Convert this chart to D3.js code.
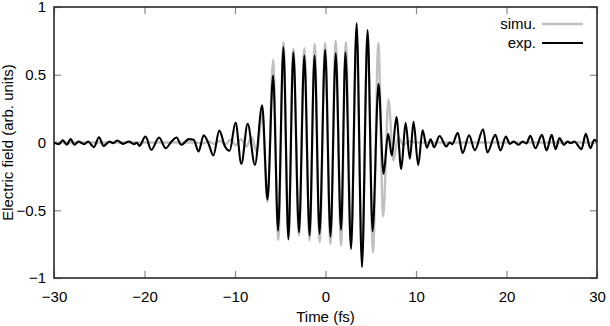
<!DOCTYPE html>
<html>
<head>
<meta charset="utf-8">
<script src="https://cdn.jsdelivr.net/npm/d3@7"></script>
<style>
  body { margin: 0; background: #fff; }
  text { font-family: "Liberation Sans", Arial, sans-serif; font-size: 15px; fill: #000; }
</style>
</head>
<body>
<div id="chart"></div>
<script>
// extrema of the measured field (time in fs, field)
var expTime = [-30, -29.45, -29.02, -28.59, -28.16, -27.73, -27.3, -26.66, -26.23, -25.59,
  -25.03, -24.52, -23.87, -23.45, -23.02, -22.37, -21.73, -21.15, -20.85, -20.57,
  -19.89, -19.25, -18.39, -17.66, -17.02, -16.46, -15.95, -15.09, -14.57, -14.02,
  -13.46, -12.94, -12.39, -11.74, -11.1, -10.59, -9.94, -9.3, -8.6, -7.8,
  -7.0, -6.41, -5.79, -5.24, -4.65, -4.1, -3.55, -2.93, -2.34, -1.76,
  -1.21, -0.66, -0.04, 0.55, 1.13, 1.72, 2.2, 2.82, 3.44, 4.03,
  4.65, 5.2, 5.86, 6.41, 6.92, 7.33, 7.84, 8.37, 8.85, 9.32,
  9.73, 10.24, 10.73, 11.2, 11.62, 12.0, 12.6, 13.35, 13.7, 14.0,
  14.62, 15.15, 15.87, 16.5, 17.42, 17.88, 18.77, 19.33, 19.93, 20.36,
  20.8, 21.35, 21.77, 22.2, 22.63, 23.19, 23.92, 24.43, 24.99, 25.42,
  25.85, 26.36, 26.75, 27.1, 27.48, 28.29, 28.76, 29.27, 29.7, 30];
var expField = [0, -0.012, 0.017, -0.017, 0.025, -0.017, 0.007, -0.012, 0.007, -0.034,
  0.039, -0.025, 0.007, -0.005, 0.015, -0.01, 0.007, -0.012, -0.002, -0.025,
  0.044, -0.054, 0.037, -0.042, 0.007, 0.037, -0.017, 0.025, 0.02, -0.066,
  0.054, -0.005, -0.096, 0.088, -0.029, -0.061, 0.147, -0.157, 0.138, -0.165,
  0.275, -0.42, 0.494, -0.65, 0.703, -0.715, 0.666, -0.662, 0.642, -0.686,
  0.642, -0.674, 0.684, -0.694, 0.659, -0.644, 0.666, -0.785, 0.88, -0.92,
  0.83, -0.655, 0.433, -0.231, 0.064, -0.096, 0.187, -0.195, 0.146, -0.12,
  0.152, -0.167, 0.09, -0.038, 0.024, -0.034, 0.048, -0.03, 0.0, -0.012,
  0.071, -0.078, 0.054, -0.057, 0.098, -0.074, 0.056, -0.059, 0.044, -0.01,
  0.007, -0.017, 0.007, -0.007, 0.049, -0.042, 0.056, -0.059, 0.056, -0.049,
  0.032, -0.017, 0.007, -0.005, 0.007, -0.049, 0.064, -0.042, 0.02, 0.005];

// extrema of the simulated field
var simTime = [-30, -14.5, -13.5, -12.9, -12.3, -11.68, -11.1, -10.5, -9.92, -9.34,
  -8.75, -8.17, -7.58, -7.0, -6.41, -5.79, -5.22, -4.65, -4.1, -3.55,
  -2.93, -2.34, -1.76, -1.19, -0.64, -0.04, 0.55, 1.12, 1.72, 2.25,
  2.82, 3.42, 4.03, 4.65, 5.25, 5.84, 6.37, 6.96, 7.5, 8.05,
  8.6, 9.2, 10, 30];
var simField = [0, 0, -0.005, 0.008, -0.01, 0.012, -0.015, 0.02, -0.02, 0.025,
  -0.03, 0.04, -0.07, 0.22, -0.44, 0.61, -0.72, 0.74, -0.7, 0.69,
  -0.686, 0.696, -0.723, 0.728, -0.736, 0.733, -0.748, 0.75, -0.76, 0.74,
  -0.76, 0.78, -0.8, 0.8, -0.81, 0.735, -0.546, 0.317, -0.133, 0.04,
  -0.02, 0.01, 0, 0];

var xTicks = [-30, -20, -10, 0, 10, 20, 30];
var yTicks = [-1, -0.5, 0, 0.5, 1];

var width = 610, height = 326;
var plotLeft = 54, plotRight = 597, plotTop = 7, plotBottom = 278;

var svg = d3.select("#chart").append("svg").attr("width", width).attr("height", height);

var x = d3.scaleLinear().domain([-30, 30]).range([plotLeft, plotRight]);
var y = d3.scaleLinear().domain([-1, 1]).range([plotBottom, plotTop]);
var fmt = d3.format("~g");

function pairs(t, v) {
  var out = [];
  for (var i = 0; i < t.length; i++) out.push([t[i], v[i]]);
  return out;
}

// axes, ticks pointing inward on all four sides
var gb = svg.append("g").attr("transform", "translate(0," + plotBottom + ")")
  .call(d3.axisBottom(x).tickValues(xTicks).tickFormat(fmt).tickSizeInner(-7).tickSizeOuter(0).tickPadding(13));
var gt = svg.append("g").attr("transform", "translate(0," + plotTop + ")")
  .call(d3.axisTop(x).tickValues(xTicks).tickFormat("").tickSizeInner(-7).tickSizeOuter(0));
var gl = svg.append("g").attr("transform", "translate(" + plotLeft + ",0)")
  .call(d3.axisLeft(y).tickValues(yTicks).tickFormat(fmt).tickSizeInner(-7).tickSizeOuter(0).tickPadding(8));
var gr = svg.append("g").attr("transform", "translate(" + plotRight + ",0)")
  .call(d3.axisRight(y).tickValues(yTicks).tickFormat("").tickSizeInner(-7).tickSizeOuter(0));

[gb, gt, gl, gr].forEach(function (g) {
  g.select(".domain").remove();
  g.selectAll(".tick line").attr("stroke", "#8a8a8a").attr("stroke-width", 1.2);
  g.selectAll(".tick text").attr("font-size", 15).attr("font-family", "Liberation Sans, Arial, sans-serif").attr("fill", "#000");
});

var line = d3.line()
  .x(function (d) { return x(d[0]); })
  .y(function (d) { return y(d[1]); })
  .curve(d3.curveMonotoneX);

svg.append("path").datum(pairs(simTime, simField))
  .attr("d", line).attr("fill", "none").attr("stroke", "#c0c0c0").attr("stroke-width", 2.4);
svg.append("path").datum(pairs(expTime, expField))
  .attr("d", line).attr("fill", "none").attr("stroke", "#000").attr("stroke-width", 2.1)
  .attr("stroke-linejoin", "round");

// frame
svg.append("rect").attr("x", plotLeft).attr("y", plotTop)
  .attr("width", plotRight - plotLeft).attr("height", plotBottom - plotTop)
  .attr("fill", "none").attr("stroke", "#2a2a2a").attr("stroke-width", 1.6);

// legend
var legend = [["simu.", "#c0c0c0", 2.4, 24], ["exp.", "#000", 2.1, 43]];
legend.forEach(function (l) {
  svg.append("text").attr("x", 536).attr("y", l[3]).attr("dy", "0.35em")
    .attr("text-anchor", "end").text(l[0]);
  svg.append("line").attr("x1", 542).attr("x2", 583).attr("y1", l[3]).attr("y2", l[3])
    .attr("stroke", l[1]).attr("stroke-width", l[2]);
});

// axis titles
svg.append("text").attr("x", (plotLeft + plotRight) / 2).attr("y", 322)
  .attr("text-anchor", "middle").text("Time (fs)");
svg.append("text").attr("transform", "translate(13," + (plotTop + plotBottom) / 2 + ") rotate(-90)")
  .attr("text-anchor", "middle").text("Electric field (arb. units)");
</script>
</body>
</html>
